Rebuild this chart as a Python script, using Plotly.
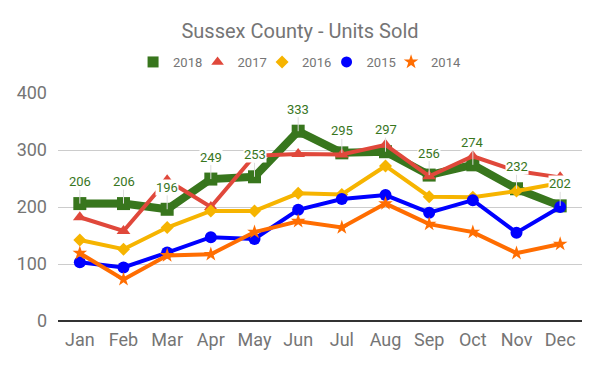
import plotly.graph_objects as go

months = ["Jan", "Feb", "Mar", "Apr", "May", "Jun", "Jul", "Aug", "Sep", "Oct", "Nov", "Dec"]
sales_2018 = [206, 206, 196, 249, 253, 333, 295, 297, 256, 274, 232, 202]
sales_2017 = [182, 158, 247, 200, 290, 293, 292, 309, 254, 289, 263, 252]
sales_2016 = [142, 126, 164, 193, 193, 224, 222, 272, 218, 217, 228, 242]
sales_2015 = [103, 94, 120, 147, 144, 195, 214, 221, 190, 212, 155, 200]
sales_2014 = [119, 73, 115, 117, 156, 175, 164, 206, 170, 156, 119, 135]
y_ticks = [0, 100, 200, 300, 400]

series = [
    ("2018", sales_2018, "#38761d", 8, "square", 13),
    ("2017", sales_2017, "#e0483b", 4, "triangle-up", 12),
    ("2016", sales_2016, "#f6b400", 4, "diamond", 10),
    ("2015", sales_2015, "#0000ff", 4, "circle", 12),
    ("2014", sales_2014, "#ff6d01", 4, "star", 11),
]

fig = go.Figure()
for name, vals, color, lw, sym, ms in series:
    fig.add_trace(go.Scatter(
        x=months, y=vals, mode="lines+markers", name=name, showlegend=False,
        line=dict(color=color, width=lw),
        marker=dict(symbol=sym, size=ms, color=color, line=dict(width=0)),
        hoverinfo="x+y+name",
    ))
# legend entries (marker only, like the reference)
for i, (name, vals, color, lw, sym, ms) in enumerate(series):
    fig.add_trace(go.Scatter(
        x=[None], y=[None], mode="markers", name=name,
        legendwidth=19.5 if i < len(series) - 1 else 30,
        marker=dict(symbol=sym, size=11 if sym != "diamond" else 10, color=color),
    ))

for m, v in zip(months, sales_2018):
    fig.add_annotation(
        x=m, y=v, text=str(v), showarrow=True, arrowhead=0, arrowwidth=1,
        arrowcolor="#dddddd", ax=0, ay=-22, standoff=0,
        font=dict(family="Roboto", size=13, color="#38761d"),
        bgcolor="white", borderpad=0,
    )

plot_top, plot_h = 93, 228
fig.update_layout(
    width=600, height=371,
    margin=dict(l=58, r=18, t=93, b=50, autoexpand=False),
    paper_bgcolor="white", plot_bgcolor="white",
    font=dict(family="Roboto", color="#757575"),
    title=dict(text="Sussex County - Units Sold", x=0.5, xanchor="center",
               y=1 - 31 / 371, yanchor="middle",
               font=dict(family="Roboto", size=20, color="#757575")),
    legend=dict(orientation="h", x=0.461, xanchor="center",
                y=1 + (plot_top - 62) / plot_h, yanchor="middle",
                font=dict(family="Roboto", size=13, color="#757575"),
                itemwidth=30, traceorder="normal"),
    xaxis=dict(range=[-0.5, 11.5], showgrid=False, showline=False, zeroline=False,
               ticks="", tickfont=dict(family="Roboto", size=18, color="#757575"),
               ticklabelstandoff=6, automargin=False, fixedrange=True),
    yaxis=dict(range=[0, 400], tickvals=y_ticks, showgrid=True, gridcolor="#cccccc",
               gridwidth=1, zeroline=True, zerolinecolor="#333333", zerolinewidth=1.5,
               showline=False, ticks="", tickfont=dict(family="Roboto", size=18, color="#757575"),
               ticklabelstandoff=10, automargin=False, fixedrange=True),
)

fig.write_html("out.html", config={"displayModeBar": False},
               post_script="document.body.style.margin='0';document.body.style.overflow='hidden';")
